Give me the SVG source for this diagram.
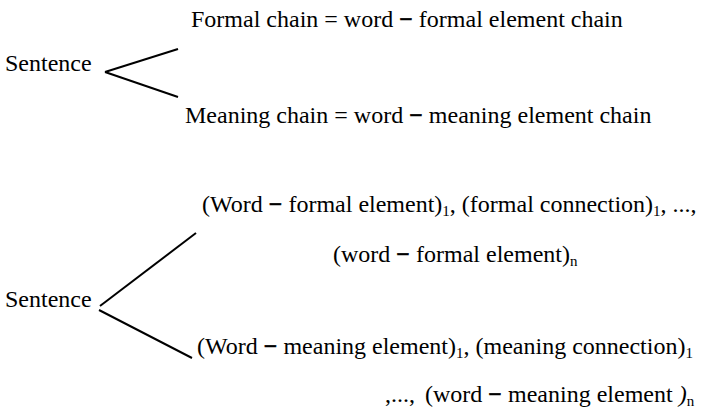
<svg xmlns="http://www.w3.org/2000/svg" width="703" height="410" viewBox="0 0 703 410">
  <style>
    text { font-family: "Liberation Serif", "Times New Roman", serif; font-size: 24px; fill: #000; }
    .sub { font-size: 15px; }
    .m { font-weight: 700; stroke: #000; stroke-width: 0.4; }
    .it { font-style: italic; }
    line { stroke: #000; stroke-width: 2; stroke-linecap: butt; }
  </style>
  <rect width="703" height="410" fill="#fff"/>

  <!-- upper tree: sentence split into formal and meaning chains -->
  <g id="sentence-top"><text x="5" y="71">Sentence</text></g>
  <g id="formal-chain"><text x="191" y="27">Formal chain = word <tspan class="m">−</tspan> formal element chain</text></g>
  <g id="meaning-chain"><text x="185" y="123">Meaning chain = word <tspan class="m">−</tspan> meaning element chain</text></g>

  <!-- lower tree: expanded element sequences -->
  <g id="sentence-bottom"><text x="5" y="307">Sentence</text></g>
  <g id="formal-sequence">
    <text x="202" y="212">(Word <tspan class="m">−</tspan> formal element)<tspan class="sub" dy="4">1</tspan><tspan dy="-4">, (formal connection)</tspan><tspan class="sub" dy="4">1</tspan><tspan dy="-4">, ...,</tspan></text>
    <text x="333" y="262">(word <tspan class="m">−</tspan> formal element)<tspan class="sub" dy="4">n</tspan></text>
  </g>
  <g id="meaning-sequence">
    <text x="197" y="354">(Word <tspan class="m">−</tspan> meaning element)<tspan class="sub" dy="4">1</tspan><tspan dy="-4">, (meaning connection)</tspan><tspan class="sub" dy="4">1</tspan></text>
    <text x="385" y="402">,...,<tspan dx="10">(word </tspan><tspan class="m">−</tspan> meaning element <tspan class="it">)</tspan><tspan class="sub" dy="4">n</tspan></text>
  </g>

  <g id="connectors">
    <line x1="105" y1="72" x2="178" y2="49"/>
    <line x1="105" y1="72" x2="178" y2="97"/>
    <line x1="100" y1="306" x2="196" y2="233"/>
    <line x1="99" y1="310" x2="192" y2="358"/>
  </g>
</svg>
